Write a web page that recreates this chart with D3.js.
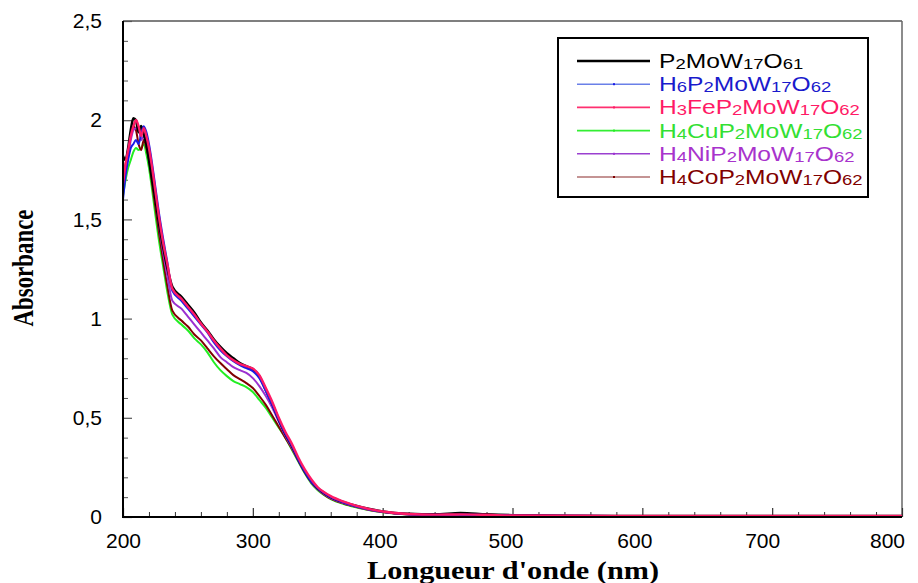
<!DOCTYPE html>
<html>
<head>
<meta charset="utf-8">
<script src="https://cdn.jsdelivr.net/npm/d3@7"></script>
<style>
  html, body { margin: 0; padding: 0; background: #fff; }
  svg { display: block; }
</style>
</head>
<body>
<svg id="chart" width="918" height="583"></svg>
<script>
// ---------------- DATA ----------------
const wavelengths = [200,202,204,206,208,210,212,214,216,218,220,222,225,228,231,234,238,
  245,250,255,260,265,270,275,280,285,290,295,300,305,310,315,320,325,330,335,340,345,350,355,360,
  370,380,390,400,420,440,460,480,500,550,600,650,700,750,800];

const seriesNames = ["P2MoW17O61","H6P2MoW17O62","H3FeP2MoW17O62","H4CuP2MoW17O62","H4NiP2MoW17O62","H4CoP2MoW17O62"];

const absP2MoW17O61 = [1.82,1.80,1.86,1.95,2.01,2.00,1.94,1.97,1.93,1.88,1.80,1.72,1.60,1.47,1.36,1.26,1.16,
  1.11,1.07,1.03,0.98,0.94,0.895,0.857,0.825,0.80,0.776,0.76,0.745,0.71,0.64,0.57,0.49,0.42,0.36,0.29,0.23,0.18,0.145,0.12,0.10,
  0.075,0.055,0.04,0.028,0.016,0.013,0.02,0.013,0.009,0.006,0.005,0.005,0.005,0.005,0.005];
const absH6P2MoW17O62 = [1.60,1.72,1.80,1.86,1.88,1.90,1.88,1.93,1.97,1.94,1.88,1.80,1.66,1.52,1.40,1.29,1.14,
  1.09,1.05,1.01,0.97,0.93,0.88,0.84,0.81,0.785,0.765,0.75,0.735,0.70,0.635,0.565,0.49,0.42,0.36,0.29,0.23,0.18,0.145,0.12,0.10,
  0.073,0.053,0.038,0.026,0.014,0.011,0.012,0.01,0.008,0.006,0.005,0.005,0.005,0.005,0.005];
const absH3FeP2MoW17O62 = [1.68,1.78,1.85,1.92,1.97,2.00,1.97,1.92,1.96,1.92,1.86,1.78,1.64,1.50,1.38,1.28,1.15,
  1.10,1.06,1.02,0.975,0.935,0.89,0.85,0.815,0.79,0.772,0.76,0.748,0.715,0.65,0.58,0.50,0.43,0.37,0.30,0.24,0.19,0.15,0.125,0.105,
  0.077,0.056,0.04,0.028,0.015,0.012,0.013,0.011,0.008,0.006,0.005,0.005,0.005,0.005,0.005];
const absH4CuP2MoW17O62 = [1.62,1.70,1.76,1.80,1.84,1.86,1.85,1.86,1.88,1.83,1.76,1.67,1.52,1.38,1.26,1.14,1.02,
  0.97,0.94,0.90,0.87,0.83,0.78,0.74,0.71,0.685,0.67,0.655,0.63,0.59,0.55,0.50,0.45,0.40,0.34,0.28,0.22,0.17,0.135,0.11,0.09,
  0.065,0.048,0.034,0.024,0.012,0.009,0.01,0.008,0.006,0.005,0.004,0.004,0.004,0.004,0.004];
const absH4NiP2MoW17O62 = [1.66,1.75,1.82,1.90,1.95,1.96,1.97,1.90,1.92,1.88,1.82,1.74,1.60,1.46,1.33,1.22,1.09,
  1.05,1.01,0.97,0.93,0.89,0.85,0.806,0.78,0.755,0.74,0.726,0.70,0.66,0.61,0.55,0.48,0.41,0.35,0.285,0.225,0.175,0.14,0.115,0.095,
  0.07,0.051,0.036,0.025,0.013,0.01,0.011,0.009,0.007,0.005,0.005,0.005,0.005,0.005,0.005];
const absH4CoP2MoW17O62 = [1.70,1.78,1.85,1.92,1.97,1.95,1.88,1.85,1.90,1.86,1.80,1.70,1.56,1.42,1.29,1.17,1.04,
  0.99,0.96,0.92,0.89,0.85,0.81,0.776,0.745,0.715,0.695,0.675,0.65,0.61,0.565,0.51,0.455,0.40,0.345,0.285,0.225,0.175,0.14,0.113,0.093,
  0.068,0.05,0.035,0.025,0.013,0.01,0.011,0.009,0.007,0.005,0.005,0.005,0.005,0.005,0.005];

const seriesValues = [absP2MoW17O61, absH6P2MoW17O62, absH3FeP2MoW17O62, absH4CuP2MoW17O62, absH4NiP2MoW17O62, absH4CoP2MoW17O62];

const xTicks = [200,300,400,500,600,700,800];
const xTickLabels = ["200","300","400","500","600","700","800"];
const yTicks = [0,0.5,1,1.5,2,2.5];
const yTickLabels = ["0","0,5","1","1,5","2","2,5"];
const xTitle = "Longueur d'onde (nm)";
const yTitle = "Absorbance";

// ---------------- STYLE ----------------
const lineColors  = ["#000000","#1a1ae6","#ff1a66","#22ee22","#9b30d0","#800000"];
const legendLineColors = ["#000000","#6a80e8","#ff3070","#33ee33","#9b40d0","#b07070"];
const textColors  = ["#000000","#1a1acc","#ff1a66","#33e033","#a833cc","#800000"];
const lineWidths  = [2.6,2.0,2.4,2.0,2.0,2.0];
const drawOrder   = [3,5,4,0,1,2];
const xLabelShift = [0,0,-3,-7,-8,-10,-15];

const W = 918, H = 583;
const L = 123, R = 902, T = 21, B = 517;

const svg = d3.select("#chart");
const x = d3.scaleLinear().domain([200,800]).range([L,R]);
const y = d3.scaleLinear().domain([0,2.5]).range([B,T]);

// frame top/right (gray)
svg.append("line").attr("x1",L).attr("x2",R).attr("y1",T).attr("y2",T)
  .attr("stroke","#555").attr("stroke-width",1.5);
svg.append("line").attr("x1",R).attr("x2",R).attr("y1",T).attr("y2",B)
  .attr("stroke","#666").attr("stroke-width",1.5);

// minor ticks
const xMinor = d3.range(220,800,20).filter(v => v % 100 !== 0);
const yMinor = d3.range(1,25).map(i => i/10).filter(v => Math.abs(v*2 - Math.round(v*2))>1e-6);

svg.append("g").attr("transform",`translate(0,${B})`)
  .call(d3.axisBottom(x).tickValues(xMinor).tickSize(-5).tickFormat(""))
  .call(g => g.select(".domain").remove())
  .call(g => g.selectAll("line").attr("stroke","#333").attr("stroke-width",1));
svg.append("g").attr("transform",`translate(${L},0)`)
  .call(d3.axisLeft(y).tickValues(yMinor).tickSize(-5).tickFormat(""))
  .call(g => g.select(".domain").remove())
  .call(g => g.selectAll("line").attr("stroke","#555").attr("stroke-width",1));

// major axes
const xAxis = svg.append("g").attr("transform",`translate(0,${B})`)
  .call(d3.axisBottom(x).tickValues(xTicks).tickSize(-9).tickPadding(16)
    .tickFormat((d,i) => xTickLabels[i]));
xAxis.select(".domain").remove();
xAxis.selectAll("line").attr("stroke","#333").attr("stroke-width",1.2);
xAxis.selectAll("text").attr("font-family","'Liberation Sans', Arial, sans-serif")
  .attr("font-size",21).attr("fill","#000")
  .attr("dx",(d,i) => xLabelShift[i]);

const yAxis = svg.append("g").attr("transform",`translate(${L},0)`)
  .call(d3.axisLeft(y).tickValues(yTicks).tickSize(-9).tickPadding(21)
    .tickFormat((d,i) => yTickLabels[i]));
yAxis.select(".domain").remove();
yAxis.selectAll("line").attr("stroke","#555").attr("stroke-width",1.2);
yAxis.selectAll("text").attr("font-family","'Liberation Sans', Arial, sans-serif")
  .attr("font-size",21).attr("fill","#000");

// data lines
const clipId = "plotclip";
svg.append("clipPath").attr("id",clipId).append("rect")
  .attr("x",L).attr("y",T).attr("width",R-L).attr("height",B-T);
const lineGen = d3.line().x(d => x(d[0])).y(d => y(d[1])).curve(d3.curveMonotoneX);
const plot = svg.append("g").attr("clip-path",`url(#${clipId})`);
drawOrder.forEach(i => {
  const pts = wavelengths.map((w,k) => [w, seriesValues[i][k]]);
  plot.append("path").datum(pts)
    .attr("d",lineGen).attr("fill","none")
    .attr("stroke",lineColors[i]).attr("stroke-width",lineWidths[i])
    .attr("stroke-linejoin","round");
});

// axis lines (black) on top
svg.append("line").attr("x1",L).attr("x2",L).attr("y1",T).attr("y2",B+1)
  .attr("stroke","#000").attr("stroke-width",2);
svg.append("line").attr("x1",L-1).attr("x2",R).attr("y1",B).attr("y2",B)
  .attr("stroke","#000").attr("stroke-width",2);

// axis titles
svg.append("text").attr("x",513).attr("y",579).attr("text-anchor","middle")
  .attr("font-family","'Liberation Serif', 'Times New Roman', serif").attr("font-weight","bold")
  .attr("font-size",25).attr("textLength",292).attr("lengthAdjust","spacingAndGlyphs")
  .text(xTitle);
svg.append("text").attr("transform","translate(33,268) rotate(-90)").attr("text-anchor","middle")
  .attr("font-family","'Liberation Serif', 'Times New Roman', serif").attr("font-weight","bold")
  .attr("font-size",30).attr("textLength",117).attr("lengthAdjust","spacingAndGlyphs")
  .text(yTitle);

// legend
const lg = svg.append("g");
lg.append("rect").attr("x",558).attr("y",38).attr("width",310).attr("height",159)
  .attr("fill","#fff").attr("stroke","#000").attr("stroke-width",2);
const rowY0 = 61, rowStep = 23.2;
const labelNodes = [];
seriesNames.forEach((name,i) => {
  const yy = rowY0 + i*rowStep;
  lg.append("line").attr("x1",577).attr("x2",650).attr("y1",yy).attr("y2",yy)
    .attr("stroke",legendLineColors[i]).attr("stroke-width", i===0 ? 2.6 : 1.6);
  if (i>0) {
    lg.append("rect").attr("x",613).attr("y",yy-1).attr("width",2).attr("height",2)
      .attr("fill",lineColors[i]);
  }
  const t = lg.append("text").attr("x",0).attr("y",0)
    .attr("transform",`translate(659,${yy+7})`)
    .attr("font-family","'Liberation Sans', Arial, sans-serif").attr("font-size",20)
    .attr("fill",textColors[i]);
  const parts = name.match(/(\d+|\D+)/g);
  let prevSub = false;
  parts.forEach(p => {
    const isSub = /\d/.test(p);
    const ts = t.append("tspan").text(p);
    if (isSub) { ts.attr("font-size",15).attr("dy", prevSub ? 0 : 1); }
    else { ts.attr("dy", prevSub ? -1 : 0); }
    prevSub = isSub;
  });
  labelNodes.push({t, yy});
});
// stretch legend labels horizontally so the widest label ends near the box edge
const refW = labelNodes[2].t.node().getComputedTextLength();
const sx = refW > 0 ? 201 / refW : 1;
labelNodes.forEach(({t,yy}) => t.attr("transform",`translate(659,${yy+7}) scale(${sx},1)`));
</script>
</body>
</html>
